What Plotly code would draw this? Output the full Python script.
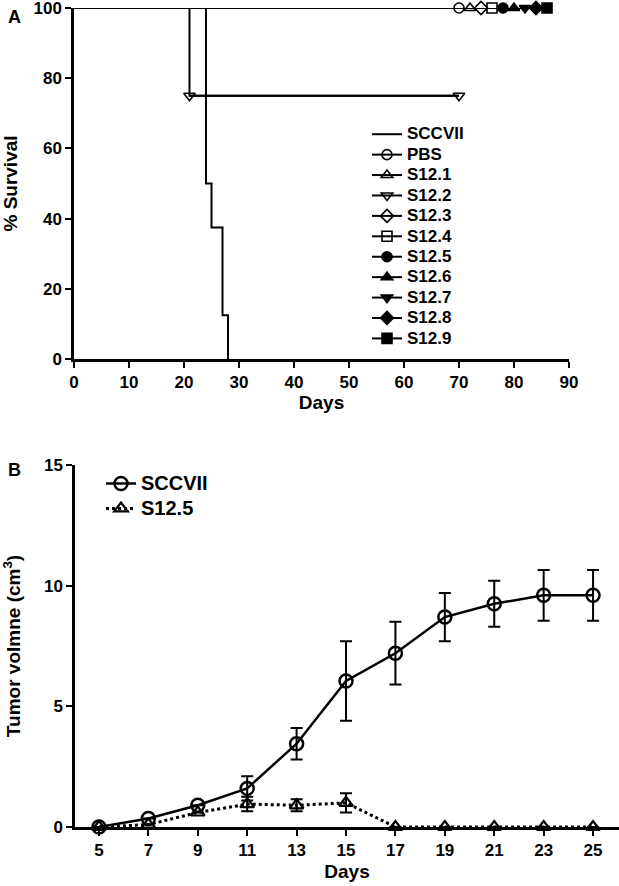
import plotly.graph_objects as go

# ---------- Panel A data (Kaplan-Meier survival) ----------
sccvii_days = [0, 24, 25, 27, 28]
sccvii_surv = [100, 50, 37.5, 12.5, 0]

s122_days = [0, 21, 70]
s122_surv = [100, 75, 75]
s122_mark_days = [21, 70]
s122_mark_surv = [75, 75]

groups = ["PBS", "S12.1", "S12.3", "S12.4", "S12.5", "S12.6", "S12.7", "S12.8", "S12.9"]
group_end_days = [70, 72, 74, 76, 78, 80, 82, 84, 86]
group_symbols = ["circle-open", "triangle-up-open", "diamond-open", "square-open",
                 "circle", "triangle-up", "triangle-down", "diamond", "square"]
legend_order = ["SCCVII", "PBS", "S12.1", "S12.2", "S12.3", "S12.4",
                "S12.5", "S12.6", "S12.7", "S12.8", "S12.9"]

# ---------- Panel B data (tumor volume) ----------
b_days = [5, 7, 9, 11, 13, 15, 17, 19, 21, 23, 25]
b_sccvii = [0, 0.35, 0.9, 1.6, 3.45, 6.05, 7.2, 8.7, 9.25, 9.6, 9.6]
b_sccvii_err = [0, 0, 0, 0.5, 0.65, 1.65, 1.3, 1.0, 0.95, 1.05, 1.05]
b_s125 = [0, 0.1, 0.6, 0.95, 0.9, 1.0, 0, 0, 0, 0, 0]
b_s125_err = [0, 0, 0, 0.3, 0.25, 0.4, 0, 0, 0, 0, 0]

FONT = "Arial, Liberation Sans, sans-serif"
W, H = 619, 886
fig = go.Figure()


def lname(t, px):
    return f'<span style="font-size:{px}px">{t}</span>'


# Panel A lines
fig.add_trace(go.Scatter(x=sccvii_days, y=sccvii_surv, mode="lines", line_shape="hv",
                         line=dict(color="black", width=2), name=lname("SCCVII", 17),
                         legend="legend", cliponaxis=False,
                         xaxis="x", yaxis="y"))
for g, d in zip(groups, group_end_days):
    fig.add_trace(go.Scatter(x=[0, d], y=[100, 100], mode="lines",
                             line=dict(color="black", width=2), showlegend=False,
                             cliponaxis=False, xaxis="x", yaxis="y"))
fig.add_trace(go.Scatter(x=s122_days, y=s122_surv, mode="lines", line_shape="hv",
                         line=dict(color="black", width=2), showlegend=False,
                         cliponaxis=False, xaxis="x", yaxis="y"))

# Panel A markers / legend entries (in legend order)
for name in legend_order[1:]:
    if name == "S12.2":
        xs, ys, sym = s122_mark_days, s122_mark_surv, "triangle-down-open"
    else:
        i = groups.index(name)
        xs, ys, sym = [group_end_days[i]], [100], group_symbols[i]
    fig.add_trace(go.Scatter(x=xs, y=ys, mode="lines+markers",
                             line=dict(color="black", width=2),
                             marker=dict(symbol=sym, size=10, color="black",
                                         line=dict(width=1.6, color="black")),
                             name=lname(name, 17), legend="legend", cliponaxis=False,
                             xaxis="x", yaxis="y"))

# Panel B
fig.add_trace(go.Scatter(x=b_days, y=b_sccvii, mode="lines+markers", name=lname("SCCVII", 20),
                         line=dict(color="black", width=2.5),
                         marker=dict(symbol="circle-open", size=13, color="black",
                                     line=dict(width=2.5, color="black")),
                         error_y=dict(type="data", array=b_sccvii_err, color="black",
                                      thickness=2, width=6),
                         legend="legend2", cliponaxis=False, xaxis="x2", yaxis="y2"))
fig.add_trace(go.Scatter(x=b_days, y=b_s125, mode="lines+markers", name=lname("S12.5", 20),
                         line=dict(color="black", width=3, dash="dot"),
                         marker=dict(symbol="triangle-up-open", size=12, color="black",
                                     line=dict(width=2.2, color="black")),
                         error_y=dict(type="data", array=b_s125_err, color="black",
                                      thickness=2, width=6),
                         legend="legend2", cliponaxis=False, xaxis="x2", yaxis="y2"))

tickfont = dict(family=FONT, size=17, color="black", weight="bold")
titlefont = dict(family=FONT, size=19, color="black", weight="bold")
axis_common = dict(showgrid=False, zeroline=False, showline=True, linecolor="black",
                   linewidth=2.5, ticks="outside", ticklen=6, tickwidth=2,
                   tickcolor="black", tickfont=tickfont, automargin=False,
                   ticklabeloverflow="allow")

fig.update_layout(
    width=W, height=H, plot_bgcolor="white", paper_bgcolor="white",
    margin=dict(l=0, r=0, t=0, b=0, autoexpand=False),
    showlegend=True,
    xaxis=dict(domain=[74 / W, 569 / W], range=[0, 90], tickvals=list(range(0, 91, 10)),
               anchor="y", title=dict(text="Days", font=titlefont, standoff=4), **axis_common),
    yaxis=dict(domain=[1 - 359 / H, 1 - 8 / H], range=[0, 100], tickvals=list(range(0, 101, 20)),
               anchor="x", title=dict(text="% Survival", font=titlefont, standoff=20), **axis_common),
    xaxis2=dict(domain=[75 / W, 1.0], range=[4.03, 26.05], tickvals=b_days,
                anchor="y2", title=dict(text="Days", font=titlefont, standoff=6), **axis_common),
    yaxis2=dict(domain=[1 - 827 / H, 1 - 465 / H], range=[0, 15], tickvals=[0, 5, 10, 15],
                anchor="x2", title=dict(text="Tumor volmne (cm<sup>3</sup>)", font=titlefont, standoff=19),
                **axis_common),
    legend=dict(x=367 / W, y=1 - 119 / H, xanchor="left", yanchor="top",
                font=dict(family=FONT, size=13.4, color="black", weight="bold"),
                bgcolor="rgba(0,0,0,0)", itemwidth=30, tracegroupgap=0),
    legend2=dict(x=101 / W, y=1 - 466 / H, xanchor="left", yanchor="top",
                 font=dict(family=FONT, size=16.9, color="black", weight="bold"),
                 bgcolor="rgba(0,0,0,0)", itemwidth=30),
    annotations=[
        dict(text="A", x=14 / W, y=1 - 17 / H, xref="paper", yref="paper", showarrow=False,
             xanchor="center", yanchor="middle",
             font=dict(family=FONT, size=18, color="black", weight="bold")),
        dict(text="B", x=14 / W, y=1 - 470 / H, xref="paper", yref="paper", showarrow=False,
             xanchor="center", yanchor="middle",
             font=dict(family=FONT, size=18, color="black", weight="bold")),
    ],
)

fig.write_html("out.html", config={"displayModeBar": False},
               post_script="document.body.style.margin='0';")
